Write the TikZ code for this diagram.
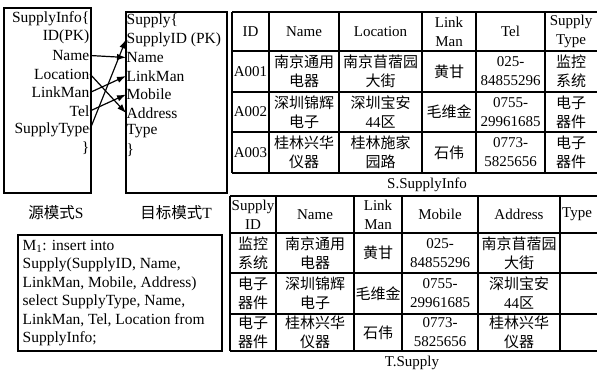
\documentclass[tikz,border=0pt]{standalone}
\usepackage{fontspec}
\setmainfont{Liberation Serif}
\newfontfamily\cjk{Noto Sans CJK SC}
\usetikzlibrary{arrows.meta}
\newcommand\zh[1]{{\cjk #1}}
\begin{document}
\begin{tikzpicture}[x=1pt,y=-1pt,
  txt/.style={font=\fontsize{15.5}{18.5}\selectfont, inner sep=0.5pt},
  cell/.style={font=\fontsize{15}{19}\selectfont, inner sep=0pt, align=center},
  frame/.style={draw, line width=1.5pt},
  grid/.style={line width=1.5pt},
  map/.style={-{Latex[length=9pt,width=6.5pt]}, line width=1.2pt}]
\useasboundingbox (0,0) rectangle (597,379);

% ---------- schema boxes ----------
\draw[frame] (4,8) rectangle (91,193);
\draw[frame] (126,12) rectangle (227,193);

\node[txt, anchor=east] (sHead) at (90,18.5) {SupplyInfo\{};
\node[txt, anchor=east] (sID)   at (90,37)   {ID(PK)};
\node[txt, anchor=east] (sName) at (90,55.5) {Name};
\node[txt, anchor=east] (sLoc)  at (90,74)   {Location};
\node[txt, anchor=east] (sLink) at (90,92.5) {LinkMan};
\node[txt, anchor=east] (sTel)  at (90,111)  {Tel};
\node[txt, anchor=east] (sType) at (90,129.5) {SupplyType};
\node[txt, anchor=east] (sEnd)  at (90,148)  {\}};

\node[txt, anchor=west] (tHead) at (126,21)    {Supply\{};
\node[txt, anchor=west] (tSID)  at (126,39.5)  {SupplyID (PK)};
\node[txt, anchor=west] (tName) at (126,57.5)  {Name};
\node[txt, anchor=west] (tLink) at (126,76)    {LinkMan};
\node[txt, anchor=west] (tMob)  at (126,94.5)  {Mobile};
\node[txt, anchor=west] (tAddr) at (126,113)   {Address};
\node[txt, anchor=west] (tType) at (126,131.5) {Type};
\node[txt, anchor=west] (tEnd)  at (126,150)   {\}};

\draw[map] (sName.east) -- (tName.west);
\draw[map] (sLoc.east)  -- (tAddr.west);
\draw[map] (sLink.east) -- (tLink.west);
\draw[map] (sTel.east)  -- (tMob.west);
\draw[map] (sType.east) -- (tSID.west);

\node[txt] (labS) at (56,213)  {\zh{源模式}S};
\node[txt] (labT) at (176,213) {\zh{目标模式}T};

% ---------- mapping box ----------
\draw[frame] (18,235) rectangle (222,351);
\node[txt, align=left, anchor=north west] (m1) at (22,239.5)
  {M\textsubscript{1}: insert into\\Supply(SupplyID, Name,\\LinkMan, Mobile, Address)\\select SupplyType, Name,\\LinkMan, Tel, Location from\\SupplyInfo;};

% ---------- S.SupplyInfo table ----------
\foreach \y in {12,51,92,132,173} \draw[grid] (232,\y) -- (597,\y);
\foreach \x in {232,269,339,422,476,545} \draw[grid] (\x,12) -- (\x,173);

\node[cell] (sh1) at (250.5,31.5) {ID};
\node[cell] (sh2) at (304,31.5)   {Name};
\node[cell] (sh3) at (380.5,31.5) {Location};
\node[cell] (sh4) at (449,31.5)   {Link\\Man};
\node[cell] (sh5) at (510.5,31.5) {Tel};
\node[cell] (sh6) at (571,31.5)   {Supply\\Type};

\node[cell] (s11) at (250.5,71.5) {A001};
\node[cell] (s12) at (304,71.5)   {\zh{南京通用}\\\zh{电器}};
\node[cell] (s13) at (380.5,71.5) {\zh{南京苜蓿园}\\\zh{大街}};
\node[cell] (s14) at (449,71.5)   {\zh{黄甘}};
\node[cell] (s15) at (510.5,71.5) {025-\\84855296};
\node[cell] (s16) at (571,71.5)   {\zh{监控}\\\zh{系统}};

\node[cell] (s21) at (250.5,112) {A002};
\node[cell] (s22) at (304,112)   {\zh{深圳锦辉}\\\zh{电子}};
\node[cell] (s23) at (380.5,112) {\zh{深圳宝安}\\44\zh{区}};
\node[cell] (s24) at (449,112)   {\zh{毛维金}};
\node[cell] (s25) at (510.5,112) {0755-\\29961685};
\node[cell] (s26) at (571,112)   {\zh{电子}\\\zh{器件}};

\node[cell] (s31) at (250.5,152.5) {A003};
\node[cell] (s32) at (304,152.5)   {\zh{桂林兴华}\\\zh{仪器}};
\node[cell] (s33) at (380.5,152.5) {\zh{桂林施家}\\\zh{园路}};
\node[cell] (s34) at (449,152.5)   {\zh{石伟}};
\node[cell] (s35) at (510.5,152.5) {0773-\\5825656};
\node[cell] (s36) at (571,152.5)   {\zh{电子}\\\zh{器件}};

\node[cell] (capS) at (427,185) {S.SupplyInfo};

% ---------- T.Supply table ----------
\foreach \y in {196,233,273,314,351} \draw[grid] (230,\y) -- (597,\y);
\foreach \x in {230,276,354,402,478,560} \draw[grid] (\x,196) -- (\x,351);

\node[cell] (th1) at (253,214.5) {Supply\\ID};
\node[cell] (th2) at (315,214.5) {Name};
\node[cell] (th3) at (378,214.5) {Link\\Man};
\node[cell] (th4) at (440,214.5) {Mobile};
\node[cell] (th5) at (519,214.5) {Address};
\node[cell, anchor=west] (th6) at (562,214.5) {Type};

\node[cell] (t11) at (253,253) {\zh{监控}\\\zh{系统}};
\node[cell] (t12) at (315,253) {\zh{南京通用}\\\zh{电器}};
\node[cell] (t13) at (378,253) {\zh{黄甘}};
\node[cell] (t14) at (440,253) {025-\\84855296};
\node[cell] (t15) at (519,253) {\zh{南京苜蓿园}\\\zh{大街}};

\node[cell] (t21) at (253,293.5) {\zh{电子}\\\zh{器件}};
\node[cell] (t22) at (315,293.5) {\zh{深圳锦辉}\\\zh{电子}};
\node[cell] (t23) at (378,293.5) {\zh{毛维金}};
\node[cell] (t24) at (440,293.5) {0755-\\29961685};
\node[cell] (t25) at (519,293.5) {\zh{深圳宝安}\\44\zh{区}};

\node[cell] (t31) at (253,332.5) {\zh{电子}\\\zh{器件}};
\node[cell] (t32) at (315,332.5) {\zh{桂林兴华}\\\zh{仪器}};
\node[cell] (t33) at (378,332.5) {\zh{石伟}};
\node[cell] (t34) at (440,332.5) {0773-\\5825656};
\node[cell] (t35) at (519,332.5) {\zh{桂林兴华}\\\zh{仪器}};

\node[cell] (capT) at (412,363) {T.Supply};
\end{tikzpicture}
\end{document}
